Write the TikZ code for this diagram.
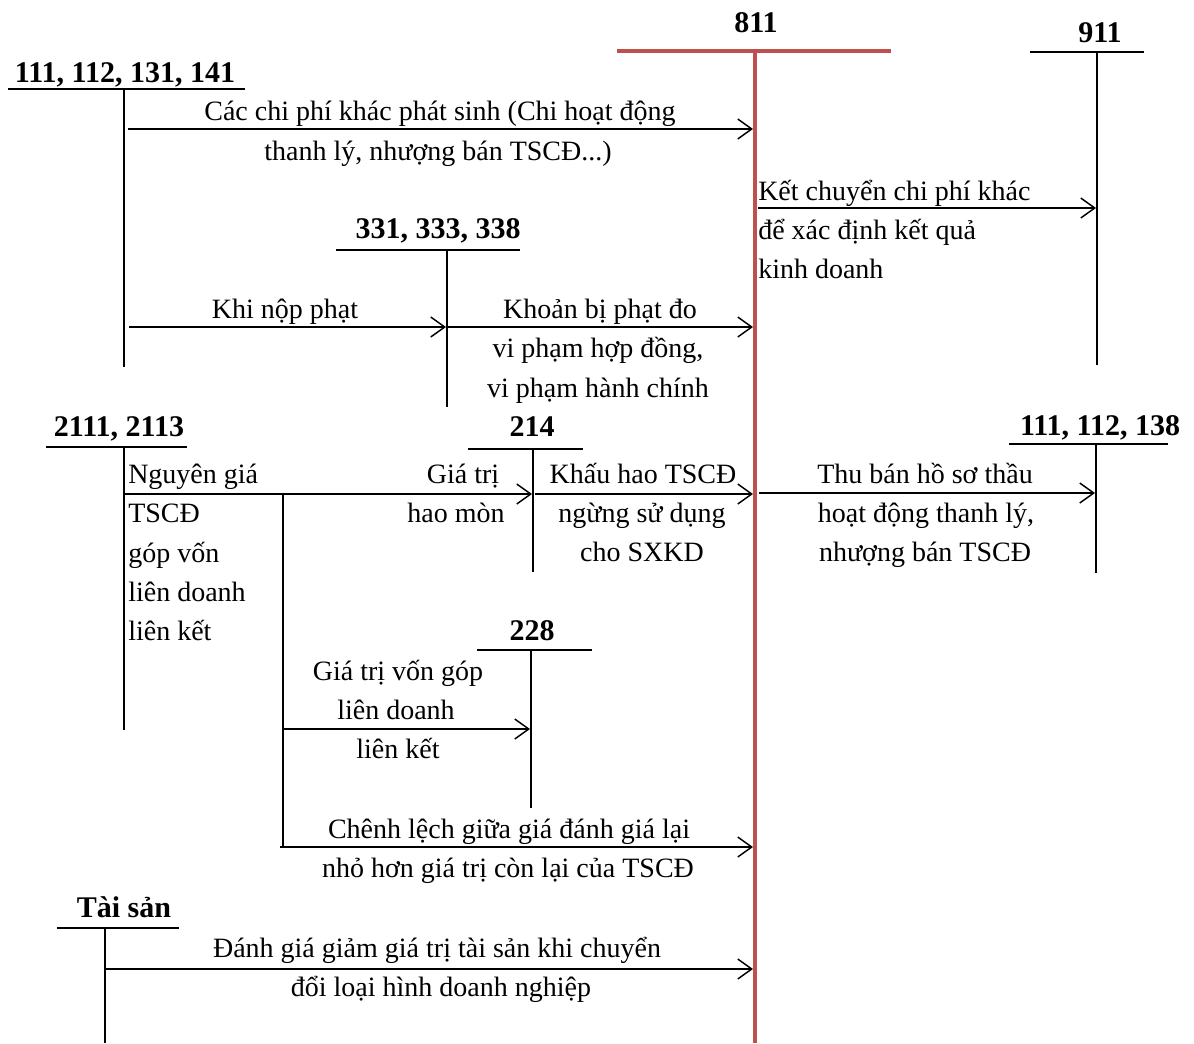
\documentclass[tikz,border=0pt]{standalone}
\usepackage{fontspec}
\setmainfont{Liberation Serif}
\usetikzlibrary{arrows.meta}
\definecolor{redline}{RGB}{192,80,77}
\begin{document}
\begin{tikzpicture}[x=0.75pt,y=-0.75pt,
  acc/.style={line width=1.2pt},
  redacc/.style={line width=3pt,draw=redline},
  flow/.style={line width=1.2pt,-{Straight Barb[length=10.5pt,width=15pt,line width=1.1pt]}},
  lbl/.style={font=\bfseries\fontsize{22.5}{27}\selectfont,anchor=base,inner sep=0},
  txt/.style={font=\fontsize{21}{30}\selectfont,anchor=base,inner sep=0},
  txtl/.style={txt,anchor=base west}]
\useasboundingbox (0,0) rectangle (1194,1043);

% ---------- account 811 (red) ----------
\node[lbl] (l811) at (756,32) {811};
\draw[redacc] (617,51) -- (891,51);
\coordinate (t811) at (755,51);
\coordinate (b811) at (755,1043);
\draw[redacc] (t811) -- (b811);

% ---------- account 911 ----------
\node[lbl] (l911) at (1100,42) {911};
\draw[acc] (1030,52) -- (1144,52);
\coordinate (t911) at (1097,52);
\coordinate (b911) at (1097,365);
\draw[acc] (t911) -- (b911);

% ---------- account 111,112,131,141 ----------
\node[lbl] (l111) at (125,82) {111, 112, 131, 141};
\draw[acc] (8,89) -- (245,89);
\coordinate (t111) at (124,89);
\coordinate (b111) at (124,367);
\draw[acc] (t111) -- (b111);

% ---------- account 331,333,338 ----------
\node[lbl] (l331) at (438,238) {331, 333, 338};
\draw[acc] (336,250) -- (520,250);
\coordinate (t331) at (447,250);
\coordinate (b331) at (447,407);
\draw[acc] (t331) -- (b331);

% ---------- account 2111,2113 ----------
\node[lbl] (l2111) at (119,436) {2111, 2113};
\draw[acc] (46,447) -- (187,447);
\coordinate (t2111) at (124,447);
\coordinate (b2111) at (124,730);
\draw[acc] (t2111) -- (b2111);

% ---------- account 214 ----------
\node[lbl] (l214) at (532,436) {214};
\draw[acc] (468,449) -- (583,449);
\coordinate (t214) at (533,449);
\coordinate (b214) at (533,572);
\draw[acc] (t214) -- (b214);

% ---------- account 111,112,138 ----------
\node[lbl] (l138) at (1100,435) {111, 112, 138};
\draw[acc] (1009,444) -- (1168,444);
\coordinate (t138) at (1096,444);
\coordinate (b138) at (1096,573);
\draw[acc] (t138) -- (b138);

% ---------- account 228 ----------
\node[lbl] (l228) at (532,640) {228};
\draw[acc] (477,650) -- (592,650);
\coordinate (t228) at (531,650);
\coordinate (b228) at (531,808);
\draw[acc] (t228) -- (b228);

% ---------- account Tai san ----------
\node[lbl] (lts) at (124,917) {Tài sản};
\draw[acc] (57,928) -- (179,928);
\coordinate (tts) at (105,928);
\coordinate (bts) at (105,1043);
\draw[acc] (tts) -- (bts);

% ---------- branch line ----------
\coordinate (br1) at (283,494);
\coordinate (br2) at (283,848);
\draw[acc] (br1) -- (br2);

% ---------- arrow endpoints ----------
\coordinate (a1s) at (128,129);  \coordinate (a1e) at (753,129);
\coordinate (a2s) at (758,208);  \coordinate (a2e) at (1096,208);
\coordinate (a3s) at (129,327);  \coordinate (a3e) at (446,327);
\coordinate (a4s) at (448,327);  \coordinate (a4e) at (753,327);
\coordinate (a5s) at (124,494);  \coordinate (a5e) at (532,494);
\coordinate (a6s) at (535,494);  \coordinate (a6e) at (753,494);
\coordinate (a7s) at (759,493);  \coordinate (a7e) at (1095,493);
\coordinate (a8s) at (283,729);  \coordinate (a8e) at (530,729);
\coordinate (a9s) at (280,847);  \coordinate (a9e) at (753,847);
\coordinate (a10s) at (105,969); \coordinate (a10e) at (753,969);

\draw[flow] (a1s) -- (a1e);
\draw[flow] (a2s) -- (a2e);
\draw[flow] (a3s) -- (a3e);
\draw[flow] (a4s) -- (a4e);
\draw[flow] (a5s) -- (a5e);
\draw[flow] (a6s) -- (a6e);
\draw[flow] (a7s) -- (a7e);
\draw[flow] (a8s) -- (a8e);
\draw[flow] (a9s) -- (a9e);
\draw[flow] (a10s) -- (a10e);

% ---------- texts ----------
\node[txt] (t1a) at (440,120) {Các chi phí khác phát sinh (Chi hoạt động};
\node[txt] (t1b) at (438,160) {thanh lý, nhượng bán TSCĐ...)};

\node[txtl] (t2a) at (758,200) {Kết chuyển chi phí khác};
\node[txtl] (t2b) at (758,239) {để xác định kết quả};
\node[txtl] (t2c) at (758,278) {kinh doanh};

\node[txt] (t3a) at (285,318) {Khi nộp phạt};

\node[txt] (t4a) at (600,318) {Khoản bị phạt đo};
\node[txt] (t4b) at (598,357) {vi phạm hợp đồng,};
\node[txt] (t4c) at (598,397) {vi phạm hành chính};

\node[txtl] (t5a) at (128,483) {Nguyên giá};
\node[txtl] (t5b) at (128,522) {TSCĐ};
\node[txtl] (t5c) at (128,562) {góp vốn};
\node[txtl] (t5d) at (128,601) {liên doanh};
\node[txtl] (t5e) at (128,640) {liên kết};

\node[txt] (t6a) at (463,483) {Giá trị};
\node[txt] (t6b) at (456,522) {hao mòn};

\node[txt] (t7a) at (643,483) {Khấu hao TSCĐ};
\node[txt] (t7b) at (642,522) {ngừng sử dụng};
\node[txt] (t7c) at (642,561) {cho SXKD};

\node[txt] (t8a) at (925,483) {Thu bán hồ sơ thầu};
\node[txt] (t8b) at (926,522) {hoạt động thanh lý,};
\node[txt] (t8c) at (925,561) {nhượng bán TSCĐ};

\node[txt] (t9a) at (398,680) {Giá trị vốn góp};
\node[txt] (t9b) at (396,719) {liên doanh};
\node[txt] (t9c) at (398,758) {liên kết};

\node[txt] (t10a) at (509,838) {Chênh lệch giữa giá đánh giá lại};
\node[txt] (t10b) at (508,877) {nhỏ hơn giá trị còn lại của TSCĐ};

\node[txt] (t11a) at (437,957) {Đánh giá giảm giá trị tài sản khi chuyển};
\node[txt] (t11b) at (441,996) {đổi loại hình doanh nghiệp};
\end{tikzpicture}
\end{document}
